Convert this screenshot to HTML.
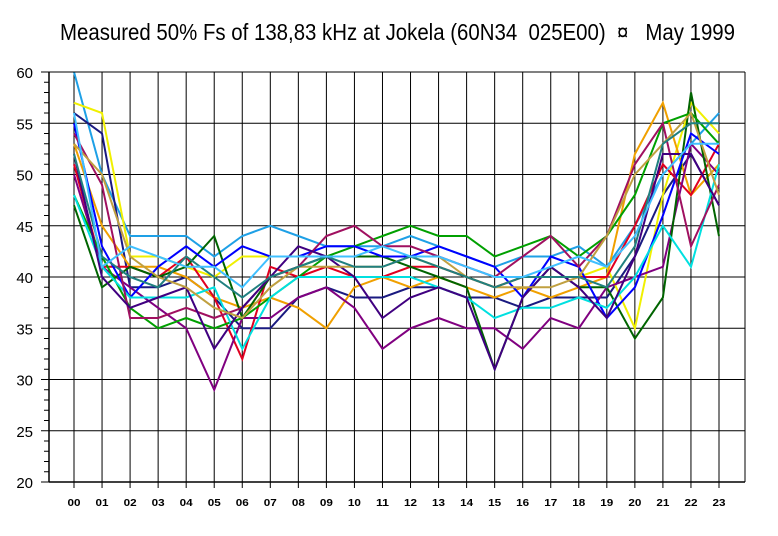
<!DOCTYPE html>
<html><head><meta charset="utf-8"><style>
html,body{margin:0;padding:0;background:#fff;width:778px;height:536px;overflow:hidden}
svg{display:block}
</style></head><body>
<svg id="chart" width="778" height="536" xmlns="http://www.w3.org/2000/svg">
<text xml:space="preserve" style="white-space:pre" x="60" y="40" font-family="Liberation Sans, sans-serif" font-size="23" textLength="675" lengthAdjust="spacingAndGlyphs">Measured 50% Fs of 138,83 kHz at Jokela (60N34  025E00)  ¤   May 1999</text>
<g id="grid"></g>
<g id="series"></g>
<g id="axes"></g>
</svg>
<script>
const hours = ["00","01","02","03","04","05","06","07","08","09","10","11","12","13","14","15","16","17","18","19","20","21","22","23"];
const yTicks = [20,25,30,35,40,45,50,55,60];
const s1 = [60,50,44,44,44,42,44,45,44,43,43,43,44,43,42,41,42,42,43,41,45,50,53,56];
const s2 = [56,54,39,39,40,38,35,35,38,39,38,38,39,39,38,38,37,38,38,38,42,48,52,47];
const s3 = [57,56,42,42,41,40,42,42,42,42,42,42,42,41,40,39,40,40,40,41,35,48,57,54];
const s4 = [53,45,41,41,40,38,37,38,37,35,39,40,39,40,39,38,39,38,39,40,52,57,48,51];
const s5 = [51,41,41,40,42,38,32,41,40,41,40,40,41,41,40,39,40,40,40,40,45,51,48,53];
const s6 = [50,41,39,37,35,29,36,36,38,39,37,33,35,36,35,35,33,36,35,39,40,41,53,50];
const s7 = [47,39,41,40,41,44,36,40,41,42,42,42,41,40,39,31,38,41,39,39,34,38,58,44];
const s8 = [48,42,37,35,36,35,36,38,40,42,43,44,45,44,44,42,43,44,42,44,48,55,56,53];
const s9 = [55,43,38,41,43,41,43,42,42,43,43,42,42,43,42,41,38,42,41,36,39,46,54,52];
const s10 = [48,41,38,38,38,39,33,38,40,40,40,40,40,39,38,36,37,37,38,37,40,45,41,51];
const s11 = [54,49,36,36,37,36,37,40,41,44,45,43,43,42,41,40,42,44,41,44,51,55,43,49];
const s12 = [52,40,37,38,39,33,37,40,43,42,40,36,38,39,38,31,38,41,39,36,42,52,52,47];
const s13 = [53,50,42,40,39,37,36,39,41,41,41,41,42,42,40,39,39,39,40,44,50,53,56,48];
const s14 = [52,42,40,39,42,40,38,40,41,42,41,41,42,41,40,39,40,40,40,39,43,53,55,55];
const s15 = [56,41,43,42,41,41,39,42,42,42,42,43,42,42,41,40,40,41,42,41,44,50,53,53];
const seriesList = [s1,s2,s3,s4,s5,s6,s7,s8,s9,s10,s11,s12,s13,s14,s15];
const colors = ["#1ea0e6","#1a1a80","#f0f000","#f0a000","#e00020","#800080","#006400","#00a000","#0000ff","#00e0e0","#a01060","#400080","#c0a040","#208080","#40c0ff"];

const NS="http://www.w3.org/2000/svg";
const L=49,R=745,T=72,B=482,X0=74,DX=(719-74)/23;
function xs(i){return X0+i*DX;}
function ys(v){return B-(v-20)*(B-T)/40;}
function mk(tag,attrs,parent){const e=document.createElementNS(NS,tag);for(const k in attrs)e.setAttribute(k,attrs[k]);parent.appendChild(e);return e;}
const grid=document.getElementById('grid'),axes=document.getElementById('axes'),ser=document.getElementById('series');
yTicks.forEach(v=>{
  const l=mk('line',{x1:L,x2:R,y1:ys(v),y2:ys(v),stroke:'#000','stroke-width':1},grid);
  
  
  const t=mk('text',{x:33,y:ys(v)+6,'text-anchor':'end','font-family':'Liberation Sans, sans-serif','font-size':15},axes);
  t.textContent=v;
  
  
});
for(let v=20;v<=60;v++){mk('line',{x1:(v%5?44:41),x2:L,y1:ys(v),y2:ys(v),stroke:'#000','stroke-width':1},axes);}
hours.forEach((h,i)=>{
  const l=mk('line',{x1:xs(i),x2:xs(i),y1:T,y2:B+6,stroke:'#000','stroke-width':1},grid);
  
  
  const t=mk('text',{x:xs(i),y:506,'text-anchor':'middle','font-family':'Liberation Sans, sans-serif','font-size':10,'font-weight':'bold',textLength:13,lengthAdjust:'spacingAndGlyphs'},axes);
  t.textContent=h;
  
  
});
mk('line',{x1:L,x2:L,y1:T,y2:B,stroke:'#000','stroke-width':1.5},axes);
mk('line',{x1:R,x2:R,y1:T,y2:B,stroke:'#000','stroke-width':1},axes);
mk('line',{x1:L,x2:R,y1:T,y2:T,stroke:'#000','stroke-width':1},axes);
mk('line',{x1:L,x2:R,y1:B,y2:B,stroke:'#000','stroke-width':1.5},axes);
seriesList.forEach((s,k)=>{
  const pts=s.map((v,i)=>xs(i).toFixed(1)+','+ys(v).toFixed(1)).join(' ');
  const p=mk('polyline',{points:pts,fill:'none',stroke:colors[k],'stroke-width':2,'stroke-linejoin':'miter'},ser);
  
  
});
</script>
</body></html>
